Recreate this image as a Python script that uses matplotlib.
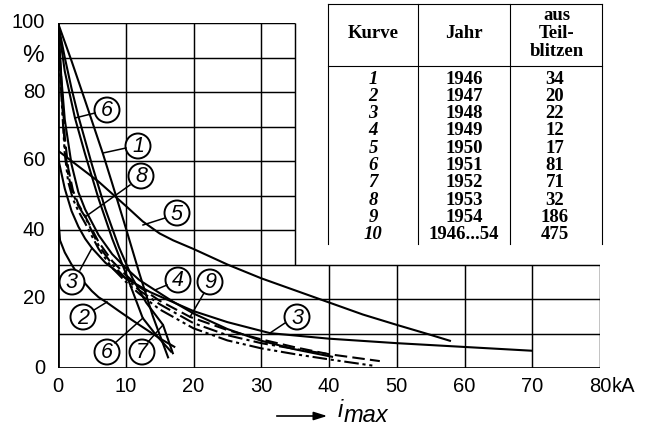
import matplotlib
matplotlib.use('Agg')
import matplotlib.pyplot as plt
from matplotlib.patches import Ellipse
from matplotlib.transforms import Affine2D

# ---------------- data ----------------
c1_x = [0, 2, 4, 6.6, 8, 10.1, 12, 14, 16.3]
c1_y = [100, 89, 77.5, 62.3, 53.5, 40, 27.5, 15, 2.8]
c2_x = [0, 0.3, 1, 2, 3, 4, 5, 6, 7.2, 9, 11, 13, 15, 17.3]
c2_y = [45, 37, 33.5, 30, 27, 24.5, 22.3, 20.5, 19, 16.5, 13.8, 11.2, 8.6, 6]
c3_x = [0, 1, 2, 3, 4, 5, 7, 10, 13.6, 20, 25, 31.3, 40, 50, 60, 70]
c3_y = [61, 52, 45.5, 41, 37.5, 34.8, 30.5, 26, 22, 16.5, 13.3, 10.1, 8.5, 7.2, 6.1, 5]
c4_x = [0, 0.5, 1, 2, 3, 4, 6, 8, 10, 12, 14.3, 17, 20, 25, 30, 35, 40.6]
c4_y = [100, 84, 72, 59, 51, 46, 38.5, 33, 29, 25.5, 22.6, 19.2, 15.8, 11.3, 7.9, 5.4, 3.2]
c5_x = [0, 2, 4, 6, 8, 10, 12.5, 15, 17, 20, 25, 30, 35, 40, 45, 50, 55, 58]
c5_y = [63, 60, 57, 54, 50.5, 47, 42.5, 39, 37, 34.5, 30, 26, 22.5, 19, 15.5, 12.5, 9.6, 7.8]
c6_x = [0, 1, 2.5, 4, 6, 8, 10, 12.5, 14.5, 16.8]
c6_y = [100, 86, 72.5, 62, 49, 37.5, 27.5, 14.5, 9.5, 4.5]
c7_x = [0, 1, 2, 3, 5, 7, 9, 11, 13, 15.5, 17]
c7_y = [100, 90, 81, 73, 59, 46, 35, 26, 19, 12.5, 4]
c8_x = [0, 0.3, 0.7, 1.0, 1.5, 2.2, 3, 4, 6, 8, 10, 12, 15, 20, 25, 30, 35, 40]
c8_y = [100, 88, 74, 64, 56, 50.5, 47, 43.8, 35.5, 30, 26, 22.5, 18.5, 13, 9.5, 7.2, 5.5, 4]
c9_x = [0, 0.3, 0.7, 1.0, 1.5, 2.2, 3, 4, 6, 8, 10, 12, 15, 19.5, 25, 30, 35, 40, 47.5]
c9_y = [100, 90, 77, 67, 58, 51.5, 47.5, 44, 36.5, 31, 27, 23.5, 19.5, 14.8, 11, 8.3, 6, 4, 2]
c10_x = [0, 0.3, 0.7, 1.0, 1.5, 2.2, 3, 4, 6, 8, 10, 12, 15, 20, 25, 30, 35, 40, 46.4]
c10_y = [100, 86, 72, 62, 54, 49, 45.5, 42, 34.5, 29, 25, 21.5, 17, 11.5, 8, 5.7, 4, 2.5, 0.7]

kurve = ['1', '2', '3', '4', '5', '6', '7', '8', '9', '10']
jahr = ['1946', '1947', '1948', '1949', '1950', '1951', '1952', '1953', '1954', '1946...54']
teilblitze = ['34', '20', '22', '12', '17', '81', '71', '32', '186', '475']

x_ticks = [0, 10, 20, 30, 40, 50, 60, 70, 80]
y_ticks = [0, 20, 40, 60, 80, 100]

SANS = 'Liberation Sans'
TICK_SIZE = 14.5

# ---------------- figure ----------------
W, H = 650, 429
fig = plt.figure(figsize=(W / 100, H / 100), dpi=100)
fig.patch.set_facecolor('white')
X0, X1, Y0, Y1 = 58, 600, 23, 368
ax = fig.add_axes([X0 / W, (H - Y1) / H, (X1 - X0) / W, (Y1 - Y0) / H])
ax.set_xlim(0, 80)
ax.set_ylim(0, 100)
ax.axis('off')

pxT = Affine2D().scale(1 / W, -1 / H).translate(0, 1) + fig.transFigure

K = 'black'
# grid
glw = 1.05
for yy in [10, 20, 30]:
    ax.plot([0, 80], [yy, yy], color=K, lw=glw, solid_capstyle='butt')
for yy in [40, 50, 60, 70, 80, 90, 100]:
    ax.plot([0, 35], [yy, yy], color=K, lw=glw, solid_capstyle='butt')
for xx in [10, 20, 30]:
    ax.plot([xx, xx], [0, 100], color=K, lw=glw, solid_capstyle='butt')
ax.plot([35, 35], [30, 100], color=K, lw=glw, solid_capstyle='butt')
for xx in [40, 50, 60, 70, 80]:
    ax.plot([xx, xx], [0, 30], color=K, lw=glw, solid_capstyle='butt')
ax.plot([0, 0], [0, 100], color=K, lw=2.0, solid_capstyle='butt')
ax.plot([-0.2, 80], [0, 0], color=K, lw=2.0, solid_capstyle='butt')

# curves
lw = 1.5
dash = (0, (6, 2.5))
dashdot = (0, (7, 2, 1.5, 2))
dashdotdot = (0, (7, 1.8, 1.5, 1.8, 1.5, 1.8))
curves = [
    (c1_x, c1_y, '-'), (c2_x, c2_y, '-'), (c3_x, c3_y, '-'), (c4_x, c4_y, '-'),
    (c5_x, c5_y, '-'), (c6_x, c6_y, '-'), (c7_x, c7_y, '-'),
    (c8_x, c8_y, dashdot), (c9_x, c9_y, dash), (c10_x, c10_y, dashdotdot),
]
for cx, cy, ls in curves:
    ax.plot(cx, cy, color=K, lw=lw, linestyle=ls, solid_capstyle='butt')

# circled labels: (text, circle centre px, leader start px, leader end px)
labels = [
    ('6', (107, 110), (95, 113), (75, 118)),
    ('1', (138, 146), (126, 148), (103, 153)),
    ('8', (141, 176), (130, 185), (85, 217)),
    ('5', (177, 213), (165, 218), (143, 225)),
    ('3', (72, 282), (80, 270), (92, 248)),
    ('2', (83, 317), (94, 310), (107, 302)),
    ('4', (178, 280), (167, 285), (155, 290)),
    ('9', (210, 282), (204, 293), (190, 317)),
    ('6', (107, 352), (115, 343), (143, 318)),
    ('7', (142, 352), (148, 342), (163, 325)),
    ('3', (297, 317), (285, 323), (270, 333)),
]
for t, c, a, b in labels:
    e = Ellipse(c, 25, 25, transform=pxT, fill=True, facecolor='white',
                edgecolor=K, lw=1.4, zorder=5)
    fig.add_artist(e)
    fig.add_artist(plt.Line2D([a[0], b[0]], [a[1], b[1]], transform=pxT, color=K, lw=1.1, zorder=5))
    fig.text(c[0], c[1] + 1, t, transform=pxT, ha='center', va='center',
             fontsize=15.5, style='italic', family='Liberation Sans', zorder=6)

# tick labels
tf = dict(family=SANS, fontsize=TICK_SIZE, color=K)
for v in x_ticks:
    fig.text(X0 + v * (X1 - X0) / 80, 387, str(v), transform=pxT, ha='center', va='center', **tf)
fig.text(612, 387, 'kA', transform=pxT, ha='left', va='center', **tf)
for v in y_ticks:
    fig.text(45, Y1 - v * (Y1 - Y0) / 100, str(v), transform=pxT, ha='right', va='center', **tf)
fig.text(33, 56, '%', transform=pxT, ha='center', va='center', family=SANS, fontsize=17.5, color=K)

# x label with arrow
fig.add_artist(plt.Line2D([277, 318], [416, 416], transform=pxT, color=K, lw=1.2))
ax.annotate('', xy=(330, 416), xytext=(314, 416), xycoords=pxT, textcoords=pxT,
            arrowprops=dict(arrowstyle='-|>,head_length=0.8,head_width=0.25', color=K, lw=1.2),
            annotation_clip=False)
fig.text(338, 417, 'i', transform=pxT, ha='left', va='baseline', fontsize=17,
         style='italic', family='Liberation Sans')
fig.text(344, 422, 'max', transform=pxT, ha='left', va='baseline', fontsize=17,
         style='italic', family='Liberation Sans')

# table
tl = dict(color=K, lw=0.8, transform=pxT)
for xx in [328, 418, 510, 602]:
    fig.add_artist(plt.Line2D([xx, xx], [4, 244], **tl))
fig.add_artist(plt.Line2D([328, 602], [4, 4], **tl))
fig.add_artist(plt.Line2D([328, 602], [66, 66], **tl))
sf = dict(family='Liberation Serif', fontsize=13.5, weight='bold', color=K)
fig.text(373, 33, 'Kurve', transform=pxT, ha='center', va='center', **sf)
fig.text(464, 33, 'Jahr', transform=pxT, ha='center', va='center', **sf)
fig.text(557, 15, 'aus', transform=pxT, ha='center', va='center', **sf)
fig.text(557, 33, 'Teil-', transform=pxT, ha='center', va='center', **sf)
fig.text(557, 52, 'blitzen', transform=pxT, ha='center', va='center', **sf)
for i in range(10):
    yy = 79 + i * 17.33
    fig.text(373, yy, kurve[i], transform=pxT, ha='center', va='center', style='italic', **sf)
    fig.text(464, yy, jahr[i], transform=pxT, ha='center', va='center', **sf)
    fig.text(555, yy, teilblitze[i], transform=pxT, ha='center', va='center', **sf)

fig.savefig('out.png', dpi=100)
